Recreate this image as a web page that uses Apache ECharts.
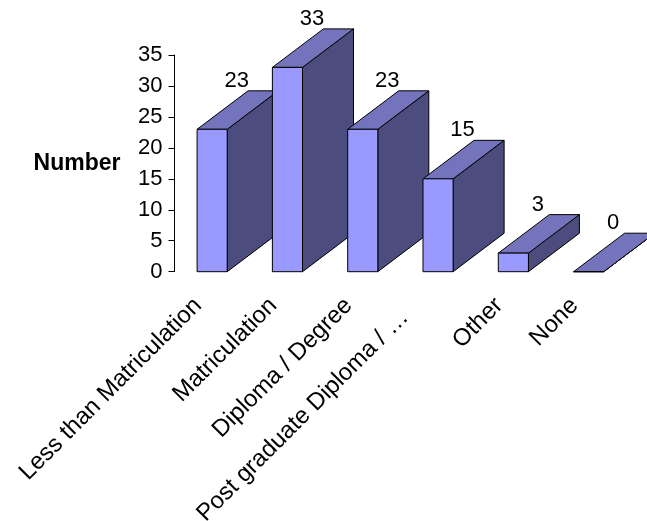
<!DOCTYPE html>
<html>
<head>
<meta charset="utf-8">
<script src="https://cdn.jsdelivr.net/npm/echarts@6/dist/echarts.min.js"></script>
<style>
  html, body { margin: 0; padding: 0; background: #ffffff; }
  #chart { width: 647px; height: 521px; }
</style>
</head>
<body>
<div id="chart"></div>
<script>
// Qualification categories and counts
const categories = [
  'Less than Matriculation',
  'Matriculation',
  'Diploma / Degree',
  'Post graduate Diploma / \u2026',
  'Other',
  'None'
];
const counts = [23, 33, 23, 15, 3, 0];
const yTicks = [0, 5, 10, 15, 20, 25, 30, 35];

const FONT = '"Liberation Sans", Arial, Helvetica, sans-serif';
const FRONT = '#9999FF';
const TOP = '#7474BC';
const SIDE = '#4C4C7F';

// Oblique projection of the bar depth
const DEPTH_X = 51;
const DEPTH_Y = -38.5;

function renderBar3D(params, api) {
  const i = api.value(0);
  const v = api.value(1);
  const top = api.coord([i, v]);
  const base = api.coord([i, 0]);
  const bandW = api.size([1, 0])[0];
  const w = bandW * 0.4;
  const xl = top[0] - w / 2;
  const xr = top[0] + w / 2;
  const yt = top[1];
  const yb = base[1];
  const line = { stroke: '#000000', lineWidth: 1, lineJoin: 'round' };
  return {
    type: 'group',
    children: [
      {
        type: 'polygon',
        shape: { points: [[xr, yt], [xr + DEPTH_X, yt + DEPTH_Y], [xr + DEPTH_X, yb + DEPTH_Y], [xr, yb]] },
        style: Object.assign({ fill: SIDE }, line)
      },
      {
        type: 'polygon',
        shape: { points: [[xl, yt], [xr, yt], [xr + DEPTH_X, yt + DEPTH_Y], [xl + DEPTH_X, yt + DEPTH_Y]] },
        style: Object.assign({ fill: TOP }, line)
      },
      {
        type: 'rect',
        shape: { x: xl, y: yt, width: w, height: yb - yt },
        style: Object.assign({ fill: FRONT }, line)
      },
      {
        type: 'text',
        style: {
          x: top[0] + DEPTH_X / 2 - 1,
          y: yt + DEPTH_Y - 10,
          text: String(v),
          font: '22px ' + FONT,
          fill: '#000000',
          align: 'center',
          verticalAlign: 'middle'
        }
      }
    ]
  };
}

const chart = echarts.init(document.getElementById('chart'), null, { renderer: 'canvas' });
chart.setOption({
  backgroundColor: '#ffffff',
  animation: false,
  grid: {
    left: 174.5, top: 55, right: 20.7, bottom: 249.3,
    containLabel: false,
    outerBoundsMode: 'none'
  },
  xAxis: {
    type: 'category',
    data: categories,
    boundaryGap: true,
    axisLine: { show: false },
    axisTick: { show: false },
    splitLine: { show: false },
    axisLabel: {
      interval: 0,
      rotate: 45,
      margin: 16,
      padding: [0, 20, 0, 0],
      color: '#000000',
      fontFamily: FONT,
      fontSize: 24,
      // the truncated label sits further back from its tick
      formatter: (value) => value.indexOf('\u2026') >= 0 ? '{cut|' + value + '}' : value,
      rich: {
        cut: { fontFamily: FONT, fontSize: 24, color: '#000000', padding: [0, 22, 10, 0] }
      }
    }
  },
  yAxis: {
    type: 'value',
    min: yTicks[0],
    max: yTicks[yTicks.length - 1],
    interval: yTicks[1] - yTicks[0],
    name: 'Number',
    nameLocation: 'middle',
    nameRotate: 0,
    nameGap: 54,
    nameTextStyle: { fontFamily: FONT, fontSize: 23, fontWeight: 'bold', color: '#000000', align: 'right' },
    axisLine: { show: true, lineStyle: { color: '#000000', width: 1 } },
    axisTick: { show: true, length: 6, lineStyle: { color: '#000000', width: 1 } },
    splitLine: { show: false },
    axisLabel: { margin: 12, color: '#000000', fontFamily: FONT, fontSize: 22 }
  },
  series: [{
    type: 'custom',
    clip: false,
    renderItem: renderBar3D,
    data: counts.map((c, i) => [i, c])
  }]
});
</script>
</body>
</html>
